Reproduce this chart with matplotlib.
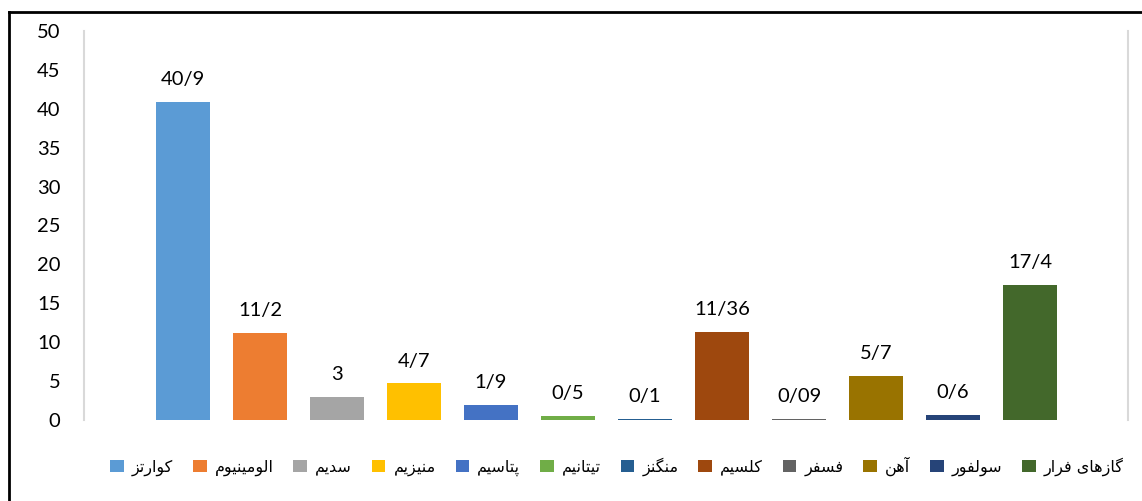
import matplotlib
matplotlib.use("Agg")
import matplotlib.pyplot as plt
from matplotlib.patches import Patch
from matplotlib.lines import Line2D

# data (one category, 12 series)
names = ["کوارتز", "الومینیوم", "سدیم", "منیزیم", "پتاسیم", "تیتانیم",
         "منگنز", "کلسیم", "فسفر", "آهن", "سولفور", "گازهای فرار"]
values = [40.9, 11.2, 3, 4.7, 1.9, 0.5, 0.1, 11.36, 0.09, 5.7, 0.6, 17.4]
value_labels = ["40/9", "11/2", "3", "4/7", "1/9", "0/5",
                "0/1", "11/36", "0/09", "5/7", "0/6", "17/4"]
colors = ["#5B9BD5", "#ED7D31", "#A5A5A5", "#FFC000", "#4472C4", "#70AD47",
          "#255E91", "#9E480E", "#636363", "#997300", "#264478", "#43682B"]
yticks = [0, 5, 10, 15, 20, 25, 30, 35, 40, 45, 50]

# matplotlib has no arabic shaping, so map letters to presentation forms by hand
# (isolated, final, initial, medial); None = letter does not join to the next
FORMS = {
    "ا": (0xFE8D, 0xFE8E, None, None),
    "آ": (0xFE81, 0xFE82, None, None),
    "د": (0xFEA9, 0xFEAA, None, None),
    "ر": (0xFEAD, 0xFEAE, None, None),
    "ز": (0xFEAF, 0xFEB0, None, None),
    "و": (0xFEED, 0xFEEE, None, None),
    "ت": (0xFE95, 0xFE96, 0xFE97, 0xFE98),
    "پ": (0xFB56, 0xFB57, 0xFB58, 0xFB59),
    "س": (0xFEB1, 0xFEB2, 0xFEB3, 0xFEB4),
    "ف": (0xFED1, 0xFED2, 0xFED3, 0xFED4),
    "ک": (0xFB8E, 0xFB8F, 0xFB90, 0xFB91),
    "گ": (0xFB92, 0xFB93, 0xFB94, 0xFB95),
    "ل": (0xFEDD, 0xFEDE, 0xFEDF, 0xFEE0),
    "م": (0xFEE1, 0xFEE2, 0xFEE3, 0xFEE4),
    "ن": (0xFEE5, 0xFEE6, 0xFEE7, 0xFEE8),
    "ه": (0xFEE9, 0xFEEA, 0xFEEB, 0xFEEC),
    "ی": (0xFBFC, 0xFBFD, 0xFBFE, 0xFBFF),
}


def dual(ch):
    return ch in FORMS and FORMS[ch][2] is not None


def shape(text):
    out = []
    for i, ch in enumerate(text):
        if ch not in FORMS:
            out.append(ch)
            continue
        prev = text[i - 1] if i > 0 else ""
        nxt = text[i + 1] if i + 1 < len(text) else ""
        join_prev = dual(prev)
        join_next = dual(ch) and nxt in FORMS
        iso, fin, ini, med = FORMS[ch]
        if join_prev and join_next:
            code = med
        elif join_prev:
            code = fin
        elif join_next:
            code = ini
        else:
            code = iso
        out.append(chr(code))
    return "".join(reversed(out))


plt.rcParams["font.family"] = ["Lato", "DejaVu Sans"]

fig = plt.figure(figsize=(11.42, 5.01), dpi=100)
ax = fig.add_axes([84 / 1142, 81 / 501, 1044 / 1142, 389 / 501])

x = list(range(len(values)))
ax.bar(x, values, width=0.70, color=colors)
for xi, v, lab in zip(x, values, value_labels):
    ax.annotate(lab, (xi, v), xytext=(0, 10), textcoords="offset points",
                ha="center", va="bottom", fontsize=14.5, color="#000000")

ax.set_xlim((84 - 183) / 77, (1128 - 183) / 77)
ax.set_ylim(0, 50)
ax.set_yticks(yticks)
ax.set_yticklabels([str(t) for t in yticks], fontsize=14.5)
ax.set_xticks([])
ax.tick_params(axis="y", length=0, pad=17)
for s in ["top", "bottom"]:
    ax.spines[s].set_visible(False)
for s in ["left", "right"]:
    ax.spines[s].set_color("#d9d9d9")
    ax.spines[s].set_linewidth(1.5)

handles = [Patch(facecolor=c, edgecolor="none") for c in colors]
fig.legend(handles, [shape(n) for n in names], loc="center",
           bbox_to_anchor=(617 / 1142, 1 - 466 / 501), ncol=12, frameon=False,
           prop={"family": ["DejaVu Sans"], "size": 11.5},
           handlelength=0.85, handleheight=0.85, handletextpad=0.5,
           columnspacing=1.25)

# outer frame: only top and left edges are visible in the reference
fig.add_artist(Line2D([9 / 1142, 1], [1 - 12 / 501, 1 - 12 / 501],
                      transform=fig.transFigure, color="black", linewidth=2))
fig.add_artist(Line2D([9 / 1142, 9 / 1142], [0, 1 - 12 / 501],
                      transform=fig.transFigure, color="black", linewidth=2))

fig.savefig("out.png", dpi=100)
